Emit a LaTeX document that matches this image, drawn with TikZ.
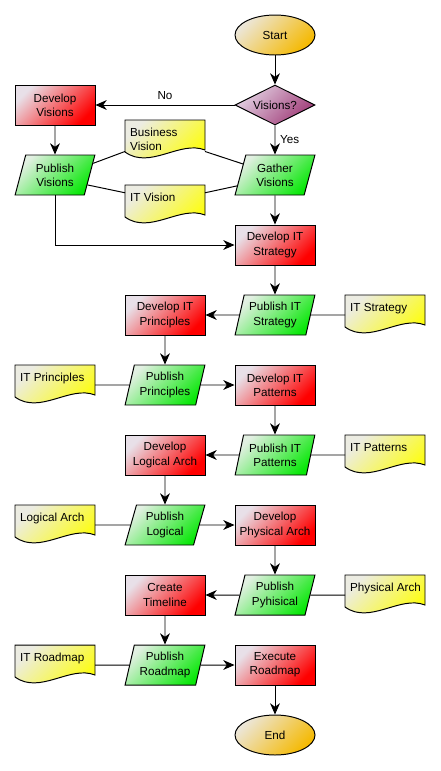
\documentclass[tikz,border=0pt]{standalone}
\usepackage{fontspec}
\setmainfont{Liberation Sans}
\usetikzlibrary{shapes.geometric,arrows.meta,backgrounds,positioning}

\definecolor{redL}{RGB}{232,224,232}
\definecolor{redR}{RGB}{255,0,0}
\definecolor{greenL}{RGB}{226,240,226}
\definecolor{greenR}{RGB}{10,232,10}
\definecolor{yelL}{RGB}{236,236,226}
\definecolor{yelR}{RGB}{255,255,0}
\definecolor{orL}{RGB}{236,230,216}
\definecolor{orR}{RGB}{245,185,0}
\definecolor{puL}{RGB}{226,208,226}
\definecolor{puR}{RGB}{160,60,120}

\newcommand{\doctext}[1]{\hspace{0.12cm}\parbox[c][0.65cm][t]{1.86cm}{\raggedright\strut #1}}

\begin{document}
\begin{tikzpicture}[node distance=1.75cm,auto,line width=0.7pt,
  >={Stealth[length=8pt,width=7pt,inset=2.5pt]},
  font=\fontsize{8.3}{10}\selectfont]
\tikzstyle{task}=[draw, rectangle, minimum width=2cm, minimum height=1cm, inner sep=0pt, align=center, top color=redL, bottom color=redR, shading angle=45]
\tikzstyle{pub}=[draw, trapezium, trapezium left angle=73, trapezium right angle=107, trapezium stretches=true, minimum width=2cm, minimum height=1cm, inner sep=0pt, align=center, top color=greenL, bottom color=greenR, shading angle=45]
\tikzstyle{term}=[draw, ellipse, minimum width=2cm, minimum height=1cm, inner sep=0pt, top color=orL, bottom color=orR, shading angle=45]
\tikzstyle{choice}=[draw, diamond, aspect=2, minimum width=2cm, minimum height=1cm, inner sep=0pt, top color=puL, bottom color=puR, shading angle=45]
\tikzstyle{doc}=[rectangle, minimum width=2cm, minimum height=1cm, inner sep=0pt, outer sep=0pt]
\tikzstyle{docshape}=[draw, line width=0.7pt, top color=yelL, bottom color=yelR, shading angle=45]

\useasboundingbox (0,0) rectangle (11.025,-19.275);

\node (start) [term] at (6.875,-0.875) {Start};
\node (vq) [below of=start, choice] {Visions?};
\node (dv) [left of=vq, node distance=5.5cm, task] {Develop\\Visions};
\node (pv) [below of=dv, pub] {Publish\\Visions};
\node (gv) [below of=vq, pub] {Gather\\Visions};
\node (bv) [right of=dv, node distance=2.75cm, yshift=-0.875cm, doc] {\doctext{Business\\Vision}};
\node (iv) [right of=pv, node distance=2.75cm, yshift=-0.75cm, doc] {\doctext{IT Vision}};
\node (dits) [below of=gv, task] {Develop IT\\Strategy};

\path[->] (start) edge (vq);
\path[->] (vq) edge node[swap] {No} (dv);
\path[->] (vq) edge node {Yes} (gv);
\path[->] (dv) edge (pv);
\path[->] (gv) edge (dits);
\draw[->] (pv) |- (dits);
\draw (pv.17) -- (bv.196);
\draw (bv.-16) -- (gv.161);
\draw (pv.-17) -- (iv.163);
\draw (iv.17) -- (gv.196);

\node (pits) [below of=dits, pub] {Publish IT\\Strategy};
\node (dip) [left of=pits, node distance=2.75cm, task] {Develop IT\\Principles};
\node (its) [right of=pits, node distance=2.75cm, doc] {\doctext{IT Strategy}};
\node (pp) [below of=dip, pub] {Publish\\Principles};
\node (ipd) [left of=pp, node distance=2.75cm, doc] {\doctext{IT Principles}};
\node (ditp) [right of=pp, node distance=2.75cm, task] {Develop IT\\Patterns};

\path[->] (dits) edge (pits);
\path[->] (pits) edge (dip);
\draw (its) -- (pits);
\path[->] (dip) edge (pp);
\draw (ipd) -- (pp);
\path[->] (pp) edge (ditp);

\node (pitp) [below of=ditp, pub] {Publish IT\\Patterns};
\node (dla) [left of=pitp, node distance=2.75cm, task] {Develop\\Logical Arch};
\node (itpd) [right of=pitp, node distance=2.75cm, doc] {\doctext{IT Patterns}};
\node (pl) [below of=dla, pub] {Publish\\Logical};
\node (lad) [left of=pl, node distance=2.75cm, doc] {\doctext{Logical Arch}};
\node (dpa) [right of=pl, node distance=2.75cm, task] {Develop\\Physical Arch};

\path[->] (ditp) edge (pitp);
\path[->] (pitp) edge (dla);
\draw (itpd) -- (pitp);
\path[->] (dla) edge (pl);
\draw (lad) -- (pl);
\path[->] (pl) edge (dpa);

\node (pph) [below of=dpa, pub] {Publish\\Pyhisical};
\node (ct) [left of=pph, node distance=2.75cm, task] {Create\\Timeline};
\node (pad) [right of=pph, node distance=2.75cm, doc] {\doctext{Physical Arch}};
\node (pr) [below of=ct, pub] {Publish\\Roadmap};
\node (rmd) [left of=pr, node distance=2.75cm, doc] {\doctext{IT Roadmap}};
\node (er) [right of=pr, node distance=2.75cm, task] {Execute\\Roadmap};
\node (end) [below of=er, term] {End};

\path[->] (dpa) edge (pph);
\path[->] (pph) edge (ct);
\draw (pad) -- (pph);
\path[->] (ct) edge (pr);
\draw (rmd) -- (pr);
\path[->] (pr) edge (er);
\path[->] (er) edge (end);

% wavy document shapes
\begin{scope}[on background layer]
\foreach \d in {bv,iv,its,ipd,itpd,lad,pad,rmd}
  \draw[docshape] (\d.north west) -- (\d.north east) -- ([yshift=-0.75cm]\d.north east)
    .. controls +(-0.625,0.25) and +(0.625,-0.45) .. ([yshift=-0.8cm]\d.north west) -- cycle;
\end{scope}
\end{tikzpicture}
\end{document}
